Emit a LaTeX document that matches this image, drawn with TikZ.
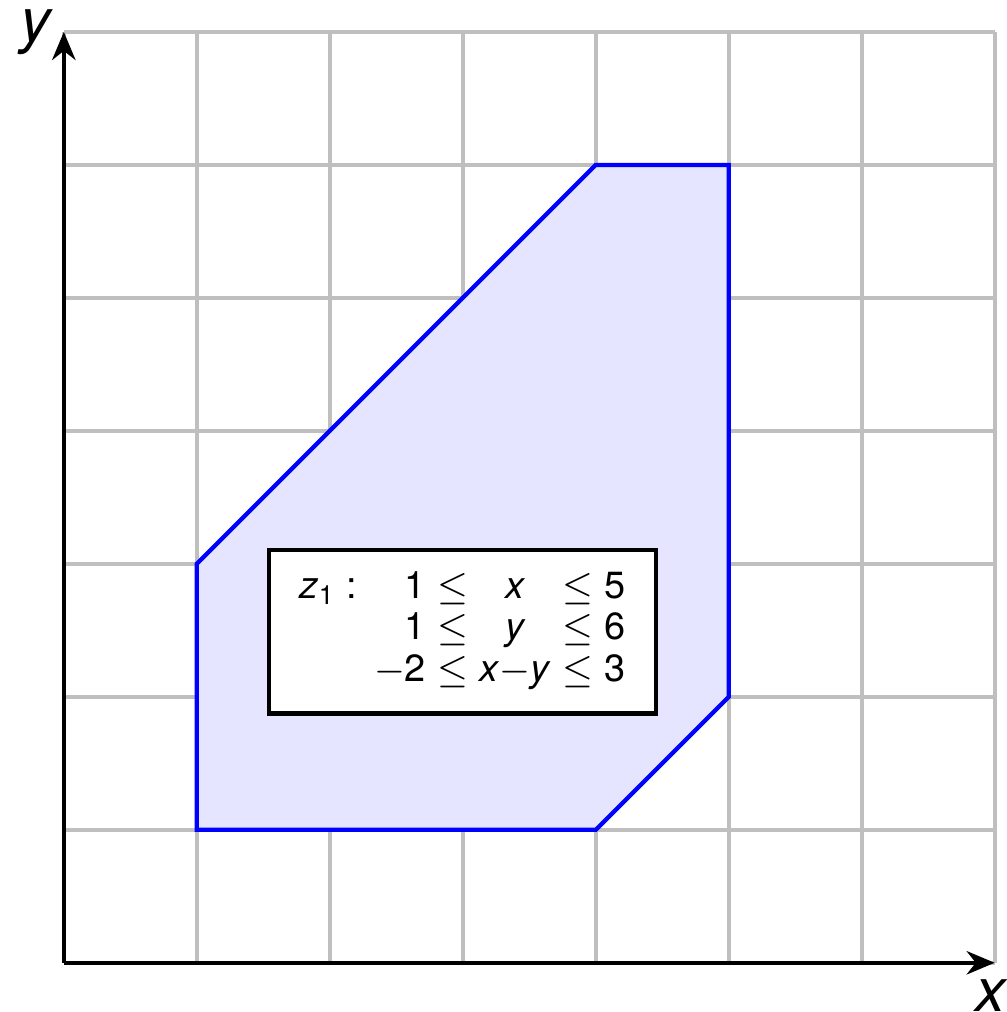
\documentclass[tikz,border=0pt]{standalone}
\usepackage{amsmath}
\usepackage{fontspec}
\setmainfont{TeX Gyre Heros}
\usetikzlibrary{positioning,arrows.meta,backgrounds}

\begin{document}
\begin{tikzpicture}[
  gridline/.style={black!25,line width=0.85pt},
  axisline/.style={line width=0.9pt,-{Stealth[length=6pt,width=5pt]}},
  zonebox/.style={draw,line width=0.9pt,fill=white,minimum width=2.91cm,minimum height=1.23cm,inner sep=0pt}
]
\useasboundingbox (-0.48,-0.37) rectangle (7.09,7.24);
\coordinate (o) at (0,0);
\coordinate (xend) at (7,0);
\coordinate (yend) at (0,7);
\coordinate (p1) at (1,1);
\coordinate (p2) at (4,1);
\coordinate (p3) at (5,2);
\coordinate (p4) at (5,6);
\coordinate (p5) at (4,6);
\coordinate (p6) at (1,3);
\begin{scope}[on background layer]
  \draw[gridline] (0,0) grid (7,7);
\end{scope}
\draw[blue,line width=0.9pt,fill=blue!10] (p1) -- (p2) -- (p3) -- (p4) -- (p5) -- (p6) -- cycle;
\draw[axisline] (o) -- (xend);
\draw[axisline] (o) -- (yend);
\node[font=\fontsize{13}{15}\selectfont\itshape,inner sep=0pt] (xlab) at (6.97,-0.25) {x};
\node[font=\fontsize{13}{15}\selectfont\itshape,inner sep=0pt] (ylab) at (-0.21,7.0) {y};
\node[zonebox,font=\fontsize{8.1}{8.9}\selectfont] (zone) at (3,2.49) {%
  \begin{tabular}{@{}l@{\hspace{0.45em}}r@{\hspace{0.3em}$\le$\hspace{0.3em}}c@{\hspace{0.3em}$\le$\hspace{0.3em}}l@{}}
  \textit{z}$_\text{1}$\ : & 1 & \textit{x} & 5\\
  & 1 & \textit{y} & 6\\
  & $-$2 & \textit{x}$-$\textit{y} & 3
  \end{tabular}};
\end{tikzpicture}
\end{document}
